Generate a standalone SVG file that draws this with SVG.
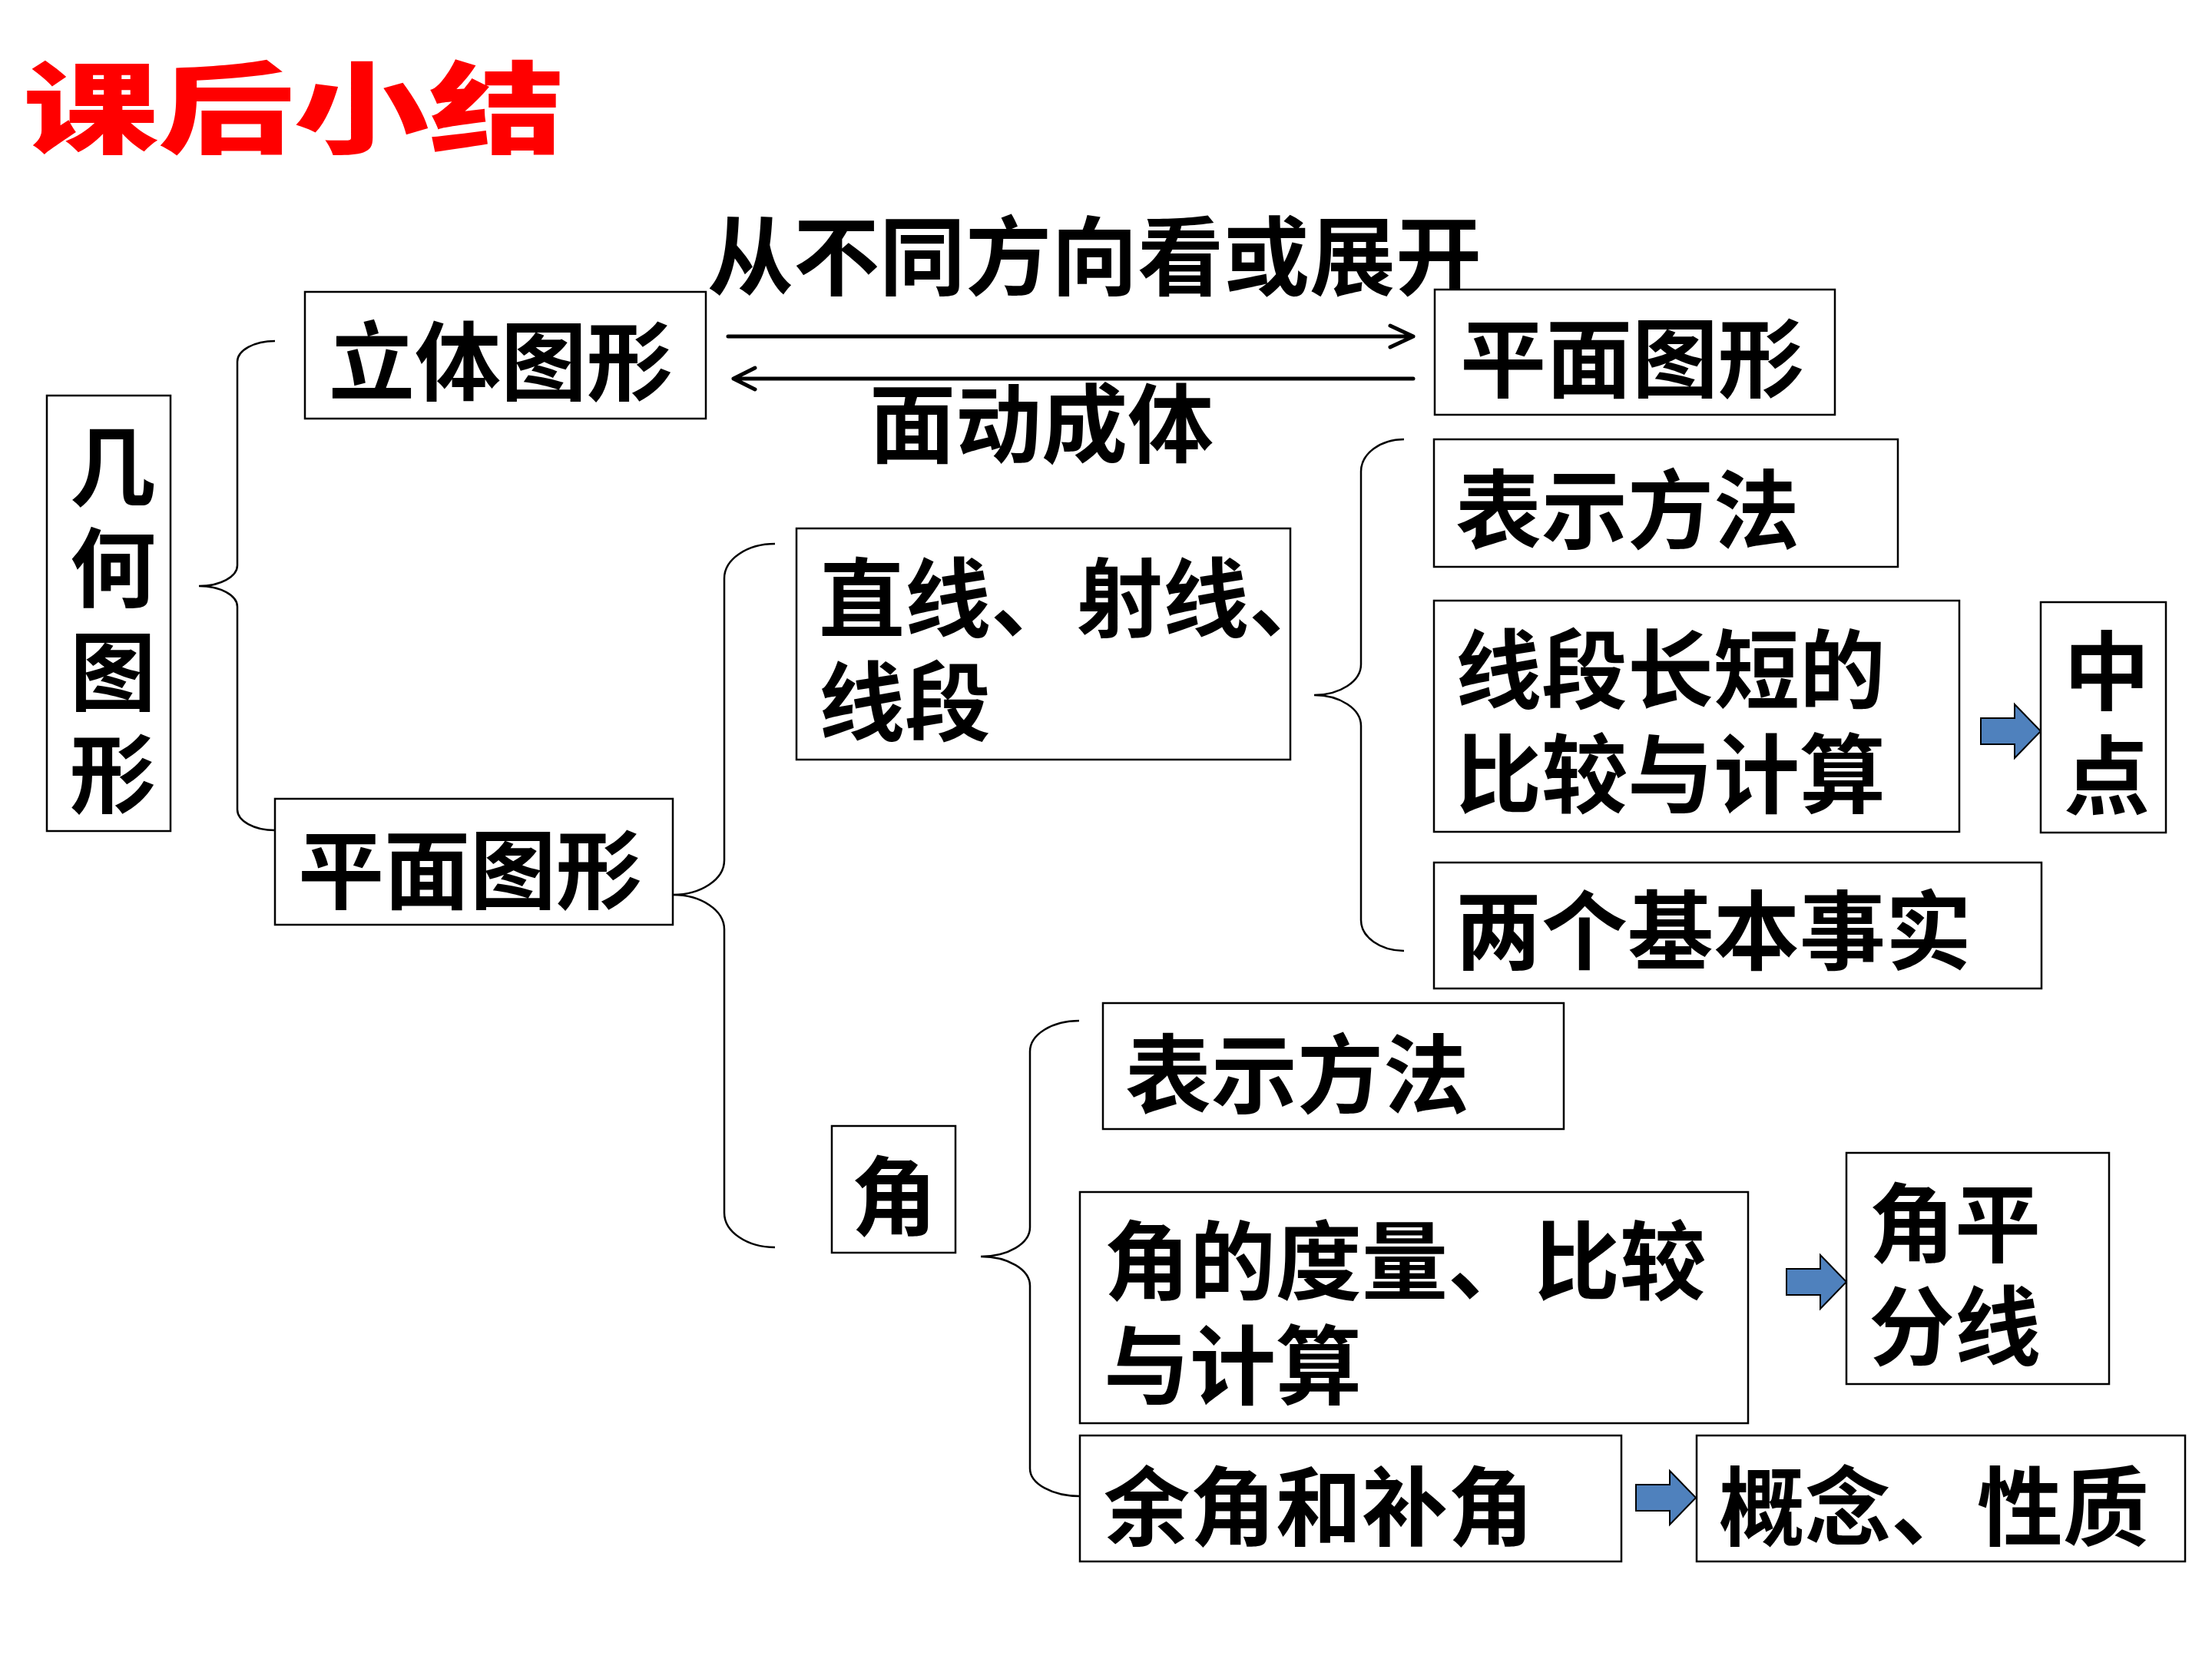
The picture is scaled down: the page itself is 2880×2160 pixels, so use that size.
<svg xmlns="http://www.w3.org/2000/svg" width="2880" height="2160" viewBox="0 0 2880 2160">
<defs>
<style>
.box{fill:#fff;stroke:#000;stroke-width:2.5}
.t{font-family:"Noto Sans CJK SC","Noto Sans CJK JP",sans-serif;font-weight:700;font-size:112px;fill:#000}
.title{font-family:"Noto Sans CJK SC","Noto Sans CJK JP",sans-serif;font-weight:900;font-size:130px;fill:#ff0000}
.brace{fill:none;stroke:#000;stroke-width:2.5}
.ln{fill:none;stroke:#000;stroke-width:5;stroke-linecap:round;stroke-linejoin:round}
.blk{fill:#4F81BD;stroke:#000;stroke-width:2}
.mid{text-anchor:middle}
</style>
<path id="blkArrow" d="M0,-17 H44 V-35 L78,0 L44,35 V17 H0 Z"/>
</defs>
<rect width="2880" height="2160" fill="#fff"/>

<text class="title" x="30" y="189" textLength="705" lengthAdjust="spacingAndGlyphs">课后小结</text>

<g id="connectors">
  <path class="brace" d="M358,444 A49,27 0 0 0 309,471 L309,736 A50,27 0 0 1 259,763 A50,27 0 0 1 309,790 L309,1054 A49,27 0 0 0 358,1081"/>
  <path class="brace" d="M1009,708 A66,45 0 0 0 943,753 L943,1120 A67,45 0 0 1 876,1165 A67,45 0 0 1 943,1210 L943,1579 A66,45 0 0 0 1009,1624"/>
  <path class="brace" d="M1828,572 A56,42 0 0 0 1772,614 L1772,865 A61,40 0 0 1 1711,905 A61,40 0 0 1 1772,945 L1772,1198 A56,40 0 0 0 1828,1238"/>
  <path class="brace" d="M1405,1329 A64,40 0 0 0 1341,1369 L1341,1598 A64,38 0 0 1 1277,1636 A64,38 0 0 1 1341,1674 L1341,1912 A65,36 0 0 0 1406,1948"/>
  <path class="ln" d="M948,438 H1840 M1810,424 L1840,438 L1810,452"/>
  <path class="ln" d="M1840,493 H955 M983,479 L955,493 L983,507"/>
  <use href="#blkArrow" class="blk" transform="translate(2579,952)"/>
  <use href="#blkArrow" class="blk" transform="translate(2326,1669)"/>
  <use href="#blkArrow" class="blk" transform="translate(2130,1950)"/>
</g>

<text class="t" x="921" y="376">从不同方向看或展开</text>
<text class="t" x="1132" y="594">面动成体</text>

<g id="n-jihe">
  <rect class="box" x="61" y="515" width="161" height="567"/>
  <text class="t mid" x="147" y="650">几<tspan x="147" dy="132">何</tspan><tspan x="147" dy="135">图</tspan><tspan x="147" dy="133">形</tspan></text>
</g>
<g id="n-liti">
  <rect class="box" x="397" y="380" width="522" height="165"/>
  <text class="t" x="428" y="513">立体图形</text>
</g>
<g id="n-pingmian-r">
  <rect class="box" x="1868" y="377" width="521" height="163"/>
  <text class="t" x="1901" y="509">平面图形</text>
</g>
<g id="n-pingmian-l">
  <rect class="box" x="358" y="1040" width="518" height="164"/>
  <text class="t" x="388" y="1175">平面图形</text>
</g>
<g id="n-zhixian">
  <rect class="box" x="1037" y="688" width="643" height="301"/>
  <text class="t" x="1066" y="821">直线、射线、<tspan x="1066" dy="135">线段</tspan></text>
</g>
<g id="n-biaoshi1">
  <rect class="box" x="1867" y="572" width="604" height="166"/>
  <text class="t" x="1895" y="706">表示方法</text>
</g>
<g id="n-xianduan">
  <rect class="box" x="1867" y="782" width="684" height="301"/>
  <text class="t" x="1895" y="914">线段长短的<tspan x="1895" dy="136">比较与计算</tspan></text>
</g>
<g id="n-zhongdian">
  <rect class="box" x="2657" y="784" width="163" height="300"/>
  <text class="t mid" x="2743" y="916">中<tspan x="2743" dy="136">点</tspan></text>
</g>
<g id="n-shishi">
  <rect class="box" x="1867" y="1123" width="791" height="164"/>
  <text class="t" x="1895" y="1254">两个基本事实</text>
</g>
<g id="n-biaoshi2">
  <rect class="box" x="1436" y="1306" width="600" height="164"/>
  <text class="t" x="1465" y="1441">表示方法</text>
</g>
<g id="n-jiao">
  <rect class="box" x="1083" y="1466" width="161" height="165"/>
  <text class="t mid" x="1164" y="1600">角</text>
</g>
<g id="n-duliang">
  <rect class="box" x="1406" y="1552" width="870" height="301"/>
  <text class="t" x="1437" y="1684">角的度量、比较<tspan x="1437" dy="136">与计算</tspan></text>
</g>
<g id="n-pingfenxian">
  <rect class="box" x="2404" y="1501" width="342" height="301"/>
  <text class="t" x="2433" y="1635">角平<tspan x="2433" dy="134">分线</tspan></text>
</g>
<g id="n-yujiao">
  <rect class="box" x="1406" y="1869" width="705" height="164"/>
  <text class="t" x="1437" y="2004">余角和补角</text>
</g>
<g id="n-gainian">
  <rect class="box" x="2209" y="1869" width="636" height="164"/>
  <text class="t" x="2238" y="2004">概念、性质</text>
</g>
</svg>
